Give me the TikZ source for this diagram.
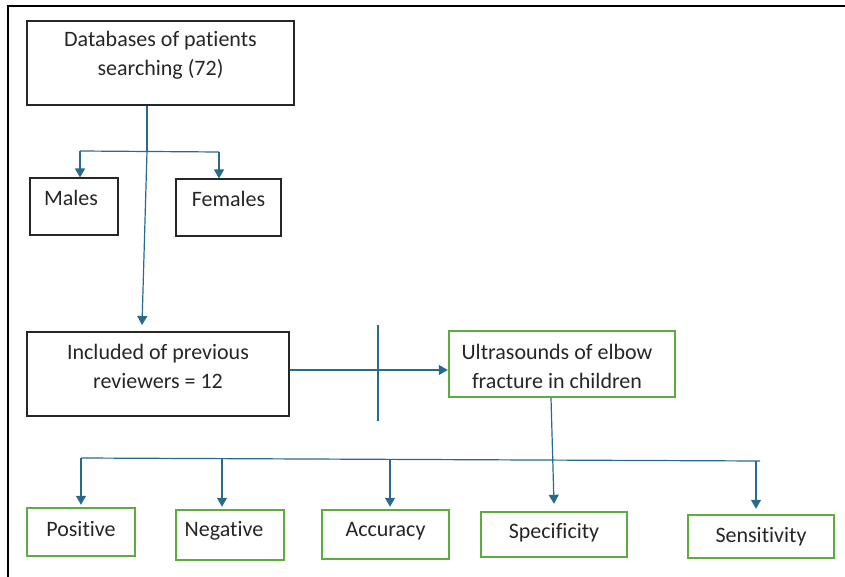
\documentclass[tikz,border=0pt]{standalone}
\usepackage{fontspec}
\setmainfont{Carlito}[Ligatures=NoCommon]
\usetikzlibrary{arrows.meta,positioning}
\definecolor{linkblue}{RGB}{40,106,142}
\definecolor{boxgreen}{RGB}{92,172,62}
\tikzset{
  box/.style={draw=black!85,line width=1.1pt,inner sep=0pt},
  gbox/.style={draw=boxgreen,line width=2.4pt,inner sep=0pt},
  txt/.style={align=center,font=\fontsize{22}{29}\selectfont,text=black!85},
  link/.style={draw=linkblue,line width=1.2pt},
  arr/.style={link,-{Triangle[width=10pt,length=9pt]}},
}

\begin{document}
\begin{tikzpicture}[x=1pt,y=-1pt]
    \useasboundingbox (0,0) rectangle (845,577);
    % frame
    \draw[line width=2.4pt] (8,577) -- (8,6) -- (845,6);
    % boxes
    \node[box,minimum width=267pt,minimum height=84pt,
      label={[txt,yshift=7.5pt]center:Databases of patients\\searching (72)}] (db) at (160.5,63) {};
    \node[box,minimum width=88pt,minimum height=57pt,
      label={[txt,yshift=8.5pt,xshift=-3pt]center:Males}] (males) at (74,206.5) {};
    \node[box,minimum width=105pt,minimum height=57pt,
      label={[txt,yshift=8.5pt]center:Females}] (females) at (228.5,207.5) {};
    \node[box,minimum width=262pt,minimum height=84pt,
      label={[txt,yshift=8pt]center:Included of previous\\reviewers = 12}] (inc) at (158,374) {};
    \node[gbox,minimum width=226pt,minimum height=66pt,
      label={[txt,yshift=-2pt,xshift=-5pt]center:Ultrasounds of elbow\\fracture in children}] (us) at (562,364) {};
    % outcomes
    \node[gbox,minimum width=108pt,minimum height=48pt,
      label={[txt,yshift=3pt]center:Positive}] (pos) at (81,532) {};
    \node[gbox,minimum width=108pt,minimum height=50pt,
      label={[txt,yshift=4pt,xshift=-6pt]center:Negative}] (neg) at (230,535) {};
    \node[gbox,minimum width=127pt,minimum height=49pt,
      label={[txt,yshift=3.5pt]center:Accuracy}] (acc) at (385.5,534.5) {};
    \node[gbox,minimum width=146pt,minimum height=45pt,
      label={[txt,yshift=1.5pt]center:Specificity}] (spec) at (554,534.5) {};
    \node[gbox,minimum width=146pt,minimum height=43pt,
      label={[txt]center:Sensitivity}] (sens) at (761,536.5) {};
    % split under databases
    \coordinate (split) at (147,151);
    \coordinate (mL) at (80,151);
    \coordinate (fL) at (219,152);
    \coordinate (incTop) at (142,325);
    \draw[link] (db.south -| split) -- (split);
    \draw[link] (mL) -- (fL);
    \draw[arr] (mL) -- (males.north -| mL);
    \draw[arr] (fL) -- (females.north -| fL);
    \draw[arr] (split) -- (incTop);
    % included to ultrasounds
    \draw[arr] ([yshift=4pt]inc.east) -- ([yshift=4pt]inc.east -| us.west);
    \draw[link] (378,325) -- (378,421);
    % ultrasounds to outcomes
    \coordinate (busL) at (81,458);
    \coordinate (busR) at (760,461);
    \coordinate (bNeg) at (222,459);
    \coordinate (bAcc) at (390,459);
    \coordinate (bSens) at (756,461);
    \draw[link] (busL) -- (busR);
    \draw[arr] ([xshift=-11pt]us.south) -- ([yshift=7pt]spec.north);
    \draw[arr] (busL) -- ([yshift=2pt]pos.north -| busL);
    \draw[arr] (bNeg) -- ([yshift=2pt]neg.north -| bNeg);
    \draw[arr] (bAcc) -- ([yshift=2pt]acc.north -| bAcc);
    \draw[arr] (bSens) -- ([yshift=5pt]sens.north -| bSens);
\end{tikzpicture}
\end{document}
